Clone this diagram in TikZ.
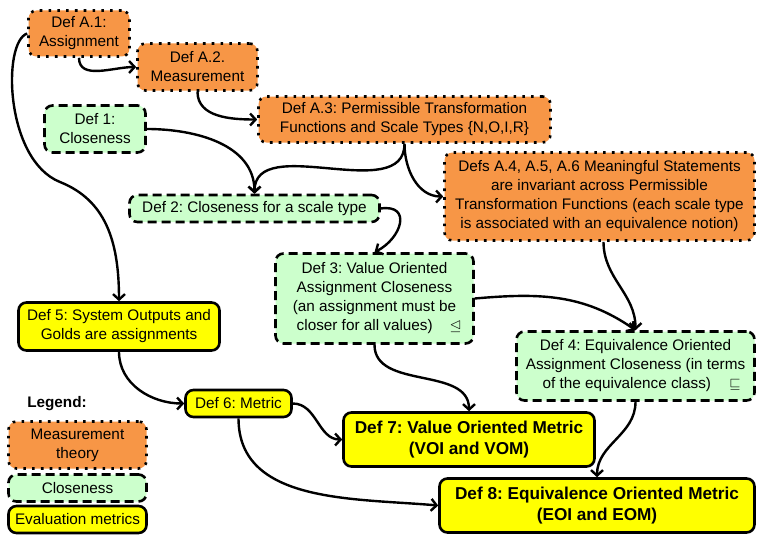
\documentclass[tikz,border=0pt]{standalone}
\usepackage{amssymb}
\usepackage{fontspec}
\setmainfont{Liberation Sans}
\usetikzlibrary{arrows.meta}
\definecolor{mtorange}{HTML}{F79646}
\definecolor{clgreen}{HTML}{CCFFCC}
\definecolor{evyellow}{HTML}{FFFF00}
\frenchspacing
\begin{document}
\begin{tikzpicture}[x=1pt,y=1pt,
  base/.style={rounded corners=8pt, align=center, inner sep=0pt, line width=2.6pt,
    font=\fontsize{15.3}{19}\selectfont\frenchspacing},
  mbox/.style={base, fill=mtorange, draw=black, dash pattern=on 2.6pt off 6.2pt},
  cbox/.style={base, fill=clgreen, draw=black, dash pattern=on 9pt off 5pt},
  ebox/.style={base, fill=evyellow, draw=black},
  bigt/.style={font=\fontsize{17.2}{21}\selectfont\bfseries\frenchspacing},
  sz/.style 2 args={minimum width=#1pt, minimum height=#2pt},
  arr/.style={line width=2.4pt, -{Straight Barb[length=5.5pt,width=12pt]}}
]
\useasboundingbox (0,0) rectangle (757,-535);

\node[mbox, sz={101}{46}] (A1) at (79,-33.5) {Def A.1:\\Assignment};
\node[mbox, sz={120}{47}] (A2) at (197.5,-67) {Def A.2.\\Measurement};
\node[cbox, sz={101}{47}] (D1) at (95,-129) {Def 1:\\Closeness};
\node[mbox, sz={292}{46}] (A3) at (404.5,-119.5) {Def A.3: Permissible Transformation\\Functions and Scale Types \{N,O,I,R\}};
\node[mbox, sz={310}{88}] (A46) at (599.5,-196.5) {Defs A.4, A.5, A.6 Meaningful Statements\\are invariant across Permissible\\Transformation Functions (each scale type\\is associated with an equivalence notion)};
\node[cbox, sz={250}{27}] (D2) at (254.5,-208.5) {Def 2: Closeness for a scale type};
\node[cbox, sz={198}{90}] (D3) at (374.5,-298.5) {Def 3: Value Oriented\\Assignment Closeness\\(an assignment must be\\\hspace*{0.6em}closer for all values)\hspace{1.1em}$\trianglelefteq$};
\node[cbox, sz={238}{69}] (D4) at (635.5,-366) {Def 4: Equivalence Oriented\\Assignment Closeness (in terms\\\hspace*{0.8em}of the equivalence class)\hspace{1.2em}$\sqsubseteq$};
\node[ebox, sz={201}{48}] (D5) at (119,-326.5) {Def 5: System Outputs and\\Golds are assignments};
\node[ebox, sz={106}{27}] (D6) at (238.5,-403.5) {Def 6: Metric};
\node[ebox, sz={251}{54}, bigt] (D7) at (469,-439.5) {Def 7: Value Oriented Metric\\(VOI and VOM)};
\node[ebox, sz={315}{54}, bigt] (D8) at (597,-505.5) {Def 8: Equivalence Oriented Metric\\(EOI and EOM)};

\node[font=\fontsize{15.3}{19}\selectfont\bfseries] (LG) at (57,-404) {Legend:};
\node[mbox, sz={138}{47}] (L1) at (77.5,-445) {Measurement\\theory};
\node[cbox, sz={138}{27}] (L2) at (77.5,-488) {Closeness};
\node[ebox, sz={138}{27}] (L3) at (77.5,-519.5) {Evaluation metrics};

\draw[arr] (A1.west) .. controls (2,-42) and (5,-160) .. (60,-182)
                     .. controls (105,-200) and (119,-240) .. (D5.north);
\draw[arr] (A1.south) to[out=-90,in=180] (A2.west);
\draw[arr] (A2.south) to[out=-90,in=180] (A3.west);
\draw[arr] (D1.east) to[out=0,in=90] (D2.north);
\draw[arr] (A3.south) to[out=-90,in=90] (D2.north);
\draw[arr] (A3.south) to[out=-90,in=180] (A46.west);
\draw[arr] (D2.east) .. controls (412,-204) and (402,-238) .. (D3.north);
\draw[arr] ([xshift=4pt]A46.south) to[out=-90,in=90] (D4.north);
\draw[arr] (D3.east) to[out=5,in=145] (D4.north);
\draw[arr] (D3.south) to[out=-90,in=90] (D7.north);
\draw[arr] (D5.south) to[out=-90,in=180] (D6.west);
\draw[arr] (D6.east) to[out=0,in=180] (D7.west);
\draw[arr] (D6.south) to[out=-90,in=175] (D8.west);
\draw[arr] (D4.south) to[out=-90,in=90] (D8.north);
\end{tikzpicture}
\end{document}
